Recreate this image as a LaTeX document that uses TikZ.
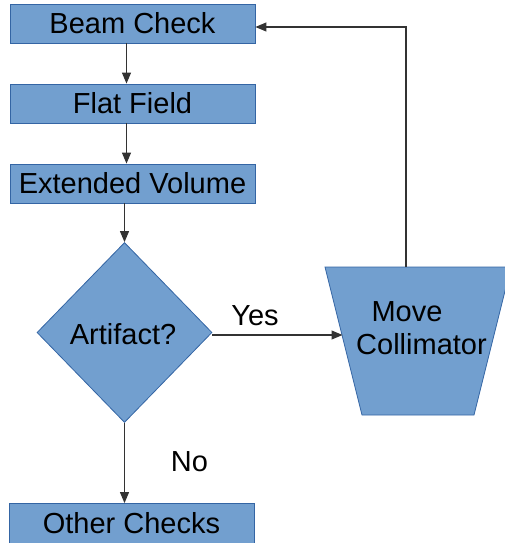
\documentclass[tikz,border=0pt]{standalone}
\usepackage{fontspec}
\setmainfont{Liberation Sans}
\usetikzlibrary{shapes.geometric,arrows.meta}
\definecolor{boxfill}{HTML}{729FCF}
\definecolor{boxline}{HTML}{3465A4}
\definecolor{wire}{HTML}{333333}
\begin{document}
\begin{tikzpicture}[x=1pt,y=-1pt,
  every node/.style={font=\fontsize{29}{33}\selectfont, inner sep=0pt},
  procbox/.style={rectangle, fill=boxfill, draw=boxline, line width=0.8pt,
    minimum width=245pt, minimum height=39pt},
  decision/.style={diamond, fill=boxfill, draw=boxline, line width=0.8pt,
    minimum width=175pt, minimum height=180pt},
  manual/.style={fill=boxfill, draw=boxline, line width=0.8pt},
  arr/.style={draw=wire, line width=1.1pt, -{Triangle[length=11pt,width=9pt]}}]
\useasboundingbox (0,0) rectangle (504,543);

\node[procbox] (beam) at (132.5,23.5) {Beam Check};
\node[procbox] (flat) at (132.5,103.5) {Flat Field};
\node[procbox] (ext) at (132.5,183.5) {Extended Volume};
\node[decision] (dia) at (124.5,332.5) {};
\node (diatext) at (123,334) {Artifact?};
\node[procbox, minimum height=40pt] (other) at (131.5,523.5) {Other Checks};

% manual-operation trapezoid, wider at the top
\path[manual] (325,267) -- (511,267) -- (474,415) -- (362,415) -- cycle;
\coordinate (colltop) at (406,267);
\coordinate (collleft) at (342.5,335);
\node[align=center] (colltext) at (421.5,328) {Move\hspace*{29pt}\\Collimator};

\node (yes) at (255,316) {Yes};
\node (no) at (189.5,462) {No};

\draw[arr] ([xshift=-6pt]beam.south) -- ([xshift=-6pt]flat.north);
\draw[arr] ([xshift=-6pt]flat.south) -- ([xshift=-6pt]ext.north);
\draw[arr] (ext.south -| dia.north) -- (dia.north);
\draw[arr] (dia.south) -- (dia.south |- other.north);
\draw[arr] (dia.east |- collleft) -- (collleft);
\draw[arr] (colltop) |- ([yshift=-3.5pt]beam.east);
\end{tikzpicture}
\end{document}
